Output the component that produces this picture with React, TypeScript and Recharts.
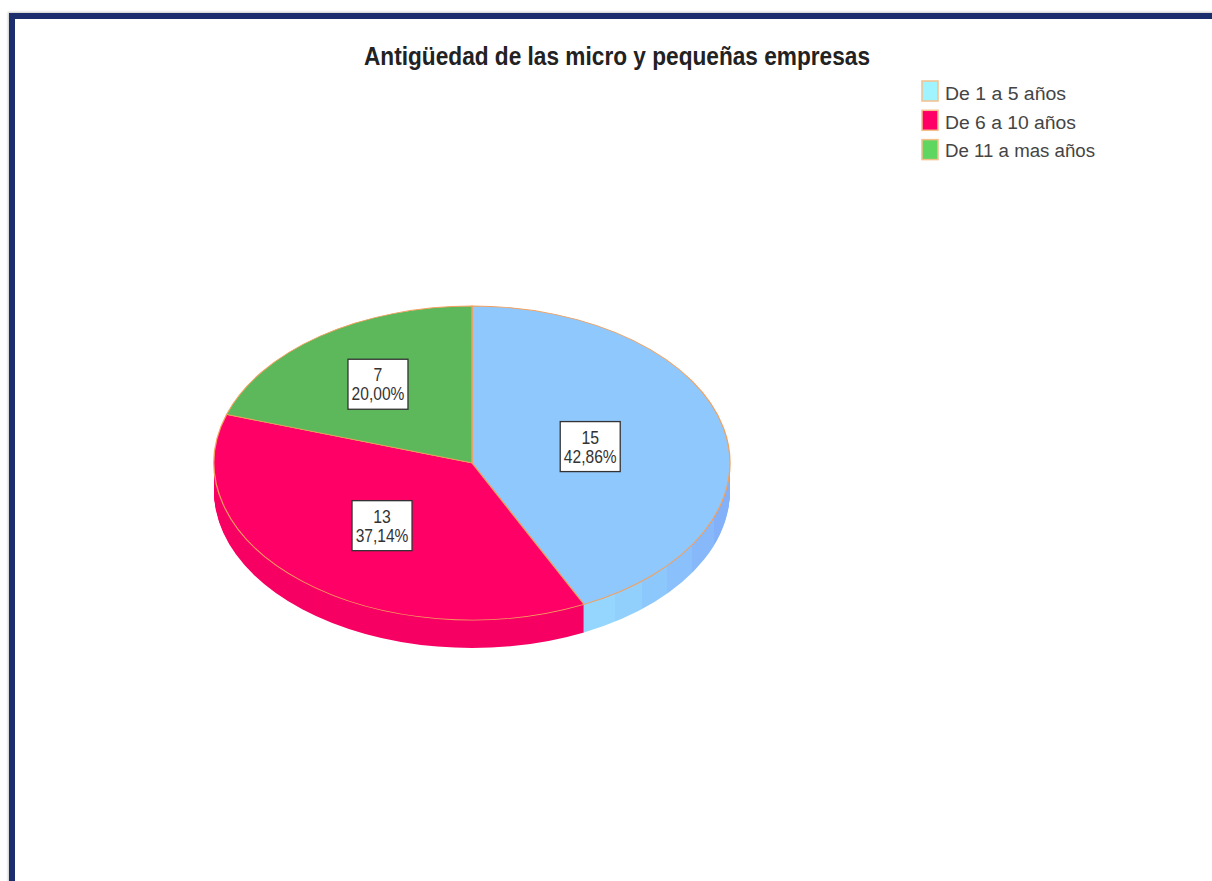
import React from 'react';
import { PieChart, Pie, Cell } from 'recharts';

// ---- data ----
const title = 'Antigüedad de las micro y pequeñas empresas';
const categories = ['De 1 a 5  años', 'De 6 a 10  años', 'De 11 a mas años'];
const counts = [15, 13, 7];

// ---- styles ----
const TOP_COLORS = ['#8fc8fd', '#ff0066', '#5cb85a'];
const SIDE_COLORS = ['url(#blueSide)', '#f70064', '#4fa44d'];
const LEGEND_COLORS = ['#9ff4ff', '#ff0066', '#5fd65f'];
const LABEL_R = [0.47, 0.53, 0.62];
const LEGEND_TEXT_W = [121, 131, 150];
const BLUE_FACETS = [
  { from: 0, to: 0.21, color: '#94d6fd' },
  { from: 0.21, to: 0.4, color: '#91d0fd' },
  { from: 0.4, to: 0.57, color: '#8dc8fc' },
  { from: 0.57, to: 0.74, color: '#8ac0fb' },
  { from: 0.74, to: 0.89, color: '#86b8fa' },
  { from: 0.89, to: 1, color: '#82b0f9' },
];

const CX = 472;
const CY = 463;
const R = 258;
const K = 157 / 258;
const DEPTH = 28;
const FONT = "'Liberation Sans', Arial, sans-serif";

const data = categories.map((name, i) => ({ name, value: counts[i] }));
const total = counts.reduce((a, b) => a + b, 0);
const sideOffsets: number[] = [];
for (let d = DEPTH; d >= 1; d -= 1) sideOffsets.push(d);

const RAD = Math.PI / 180;

const renderLabel = (props: any) => {
  const { cx, cy, midAngle, outerRadius, index, value } = props;
  const r = outerRadius * LABEL_R[index];
  const x = cx + r * Math.cos(-midAngle * RAD);
  const y = cy + r * Math.sin(-midAngle * RAD);
  const pct = ((value / total) * 100).toFixed(2).replace('.', ',') + '%';
  const pctW = pct.length * 8.8;
  const valW = String(value).length * 8.8;
  return (
    <g transform={`translate(${x},${y}) scale(1,${1 / K})`}>
      <rect x={-30} y={-25} width={60} height={50} fill="#ffffff" stroke="#333333" strokeWidth={1.3} />
      <text
        x={0}
        y={-3}
        textAnchor="middle"
        fontFamily={FONT}
        fontSize={18}
        fill="#333"
        textLength={valW}
        lengthAdjust="spacingAndGlyphs"
      >
        {value}
      </text>
      <text
        x={0}
        y={16}
        textAnchor="middle"
        fontFamily={FONT}
        fontSize={18}
        fill="#333"
        textLength={pctW}
        lengthAdjust="spacingAndGlyphs"
      >
        {pct}
      </text>
    </g>
  );
};

export default function App() {
  return (
    <div
      style={{
        position: 'absolute',
        left: 0,
        top: 0,
        width: 1212,
        height: 881,
        background: '#ffffff',
        overflow: 'hidden',
      }}
    >
      <div
        style={{
          position: 'absolute',
          left: 9,
          top: 13,
          width: 1400,
          height: 1000,
          borderTop: '6px solid #1b2d6c',
          borderLeft: '6px solid #1b2d6c',
          boxShadow: '-1px -1px 2px #c8c8c8',
        }}
      />
      <div
        style={{
          position: 'absolute',
          left: 0,
          top: 0,
          width: 1212,
          height: 881 / K,
          transform: `scaleY(${K})`,
          transformOrigin: '0px 0px',
        }}
      >
        <PieChart width={1212} height={881 / K} margin={{ top: 0, right: 0, bottom: 0, left: 0 }}>
          {sideOffsets.map((d) => (
            <Pie
              key={d}
              data={data}
              dataKey="value"
              nameKey="name"
              cx={CX}
              cy={(CY + d) / K}
              outerRadius={R}
              startAngle={90}
              endAngle={-270}
              stroke="none"
              legendType="none"
              isAnimationActive={false}
            >
              {data.map((e, i) => (
                <Cell key={e.name} fill={SIDE_COLORS[i]} stroke="none" />
              ))}
            </Pie>
          ))}
          <Pie
            data={data}
            dataKey="value"
            nameKey="name"
            cx={CX}
            cy={CY / K}
            outerRadius={R}
            startAngle={90}
            endAngle={-270}
            label={renderLabel}
            labelLine={false}
            isAnimationActive={false}
          >
            {data.map((e, i) => (
              <Cell key={e.name} fill={TOP_COLORS[i]} stroke="#f2a05e" strokeWidth={1.3} />
            ))}
          </Pie>
        </PieChart>
      </div>
      <svg style={{ position: 'absolute', left: 0, top: 0 }} width={1212} height={200}>
        <defs>
          <linearGradient id="blueSide" gradientUnits="userSpaceOnUse" x1={584} y1={0} x2={730} y2={0}>
            {BLUE_FACETS.flatMap((f) => [
              <stop key={f.color + 'a'} offset={f.from} stopColor={f.color} />,
              <stop key={f.color + 'b'} offset={f.to} stopColor={f.color} />,
            ])}
          </linearGradient>
        </defs>
        <text
          x={364}
          y={65}
          fontFamily={FONT}
          fontSize={26}
          fontWeight="bold"
          fill="#222"
          textLength={506}
          lengthAdjust="spacingAndGlyphs"
        >
          {title}
        </text>
        {categories.map((c, i) => (
          <g key={c}>
            <rect
              x={922}
              y={81 + i * 29.3}
              width={16}
              height={20}
              fill={LEGEND_COLORS[i]}
              stroke="#f3c08c"
              strokeWidth={1.5}
            />
            <text
              x={945}
              y={100 + i * 28.6}
              fontFamily={FONT}
              fontSize={18}
              fill="#444"
              textLength={LEGEND_TEXT_W[i]}
              lengthAdjust="spacingAndGlyphs"
            >
              {c}
            </text>
          </g>
        ))}
      </svg>
    </div>
  );
}
